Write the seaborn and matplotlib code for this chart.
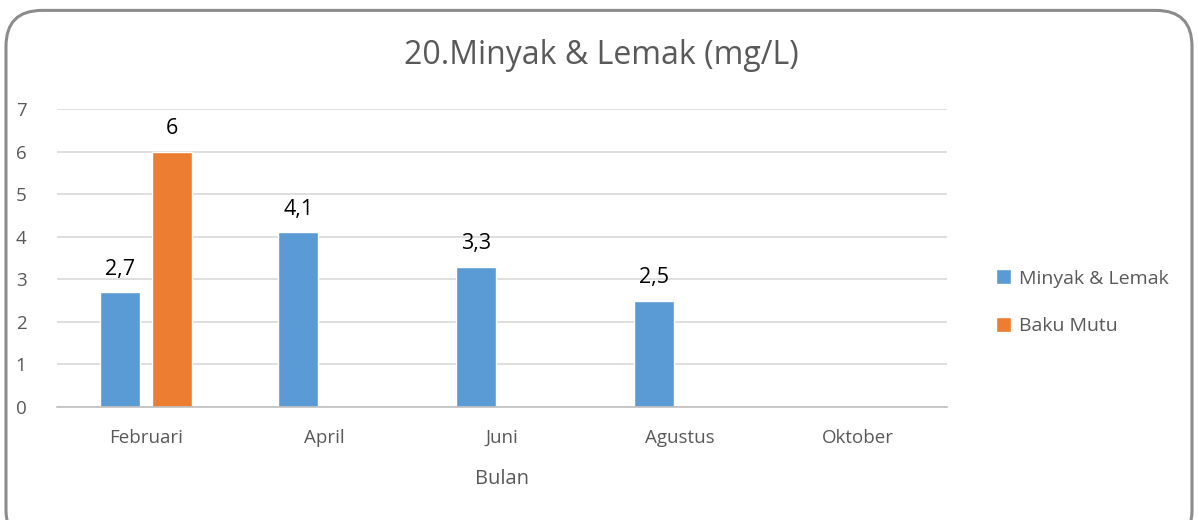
import matplotlib
matplotlib.use("Agg")
import matplotlib.pyplot as plt
from matplotlib.patches import FancyBboxPatch
import pandas as pd
import seaborn as sns

# Data
months = ["Februari", "April", "Juni", "Agustus", "Oktober"]
minyak_lemak = [2.7, 4.1, 3.3, 2.5, None]
baku_mutu = [6, None, None, None, None]
series_names = ["Minyak & Lemak", "Baku Mutu"]
colors = ["#5B9BD5", "#ED7D31"]

df = pd.DataFrame({
    "Bulan": months * 2,
    "Nilai": minyak_lemak + baku_mutu,
    "Seri": [series_names[0]] * len(months) + [series_names[1]] * len(months),
}).dropna()

sns.set_style("white")
plt.rcParams["font.family"] = ["Open Sans", "DejaVu Sans"]

fig = plt.figure(figsize=(11.98, 5.2), dpi=100)
ax = fig.add_axes([0.0476, 0.2173, 0.743, 0.5731])

sns.barplot(
    data=df, x="Bulan", y="Nilai", hue="Seri", order=months,
    hue_order=series_names, palette=colors, width=0.584, gap=0.23,
    errorbar=None, saturation=1, ax=ax,
)

# Data labels with a decimal comma
for container in ax.containers:
    labels = []
    for v in container.datavalues:
        labels.append(f"{v:g}".replace(".", ","))
    ax.bar_label(container, labels=labels, padding=9, fontsize=15.5, color="black")

ax.set_ylim(0, 7)
ax.set_xlim(-0.5, len(months) - 0.5)
ax.set_yticks(range(0, 8))
ax.yaxis.grid(True, color="#D9D9D9", linewidth=1.2)
ax.set_axisbelow(True)
for side in ["left", "right", "top"]:
    ax.spines[side].set_visible(False)
ax.spines["bottom"].set_color("#BFBFBF")
ax.spines["bottom"].set_linewidth(1.2)

ax.tick_params(axis="y", length=0, labelsize=13.5, labelcolor="#595959", pad=22)
ax.tick_params(axis="x", which="major", length=0, labelsize=13.5,
               labelcolor="#595959", pad=16)
ax.set_xticks([i - 0.5 for i in range(len(months) + 1)], minor=True)
ax.tick_params(axis="x", which="minor", length=5, color="#BFBFBF", width=1.2)

ax.set_xlabel("Bulan", fontsize=14.5, color="#595959", labelpad=16)
ax.set_ylabel("")

fig.suptitle("20.Minyak & Lemak (mg/L)", fontsize=23, color="#595959",
             x=0.502, y=0.925)

ax.legend(
    loc="center left", bbox_to_anchor=(1.035, 0.352), frameon=False,
    fontsize=14, labelcolor="#595959", handlelength=0.8, handleheight=0.8,
    handletextpad=0.4, labelspacing=1.5,
)

# Rounded outer border
border = FancyBboxPatch(
    (0.005, -0.05), 0.99, 1.03, transform=fig.transFigure,
    boxstyle="round,pad=0,rounding_size=0.03", mutation_aspect=1198 / 520,
    facecolor="none", edgecolor="#8C8C8C", linewidth=2.2, clip_on=False,
)
fig.patches.append(border)

fig.savefig("out.png", dpi=100)
